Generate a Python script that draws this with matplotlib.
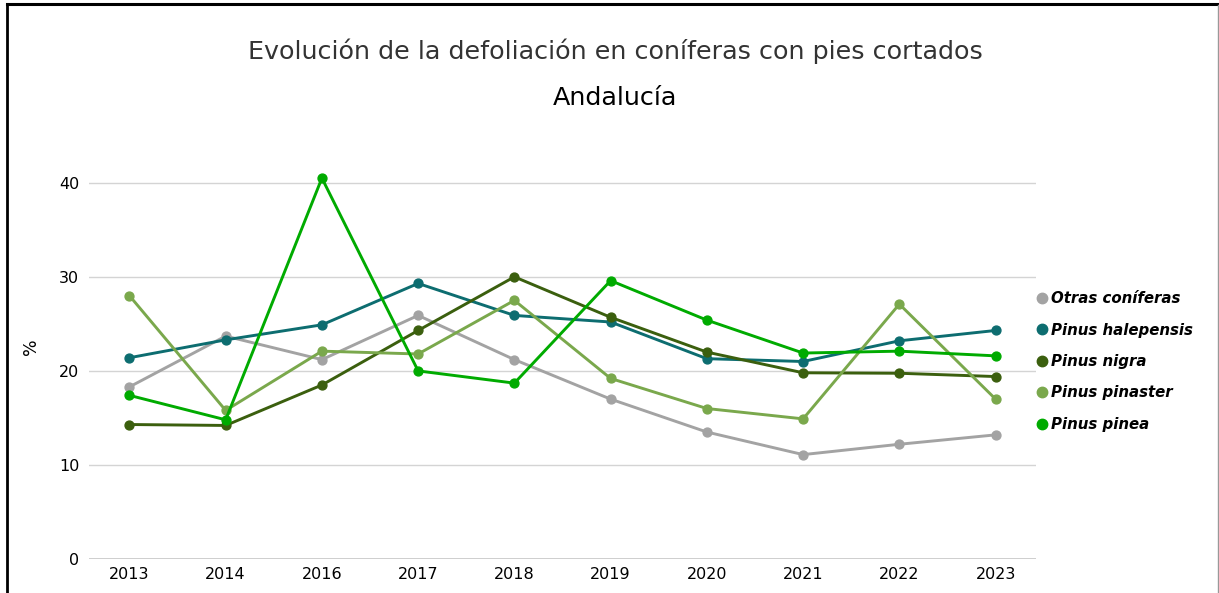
import matplotlib
matplotlib.use("Agg")
import matplotlib.pyplot as plt
from matplotlib.lines import Line2D

years = ["2013", "2014", "2016", "2017", "2018", "2019", "2020", "2021", "2022", "2023"]
otras_coniferas = [18.3, 23.7, 21.2, 25.9, 21.2, 17.0, 13.5, 11.1, 12.2, 13.2]
pinus_halepensis = [21.4, 23.3, 24.9, 29.3, 25.9, 25.2, 21.3, 21.0, 23.2, 24.3]
pinus_nigra = [14.3, 14.2, 18.5, 24.3, 30.0, 25.7, 22.0, 19.8, 19.75, 19.4]
pinus_pinaster = [28.0, 15.8, 22.1, 21.8, 27.5, 19.2, 16.0, 14.9, 27.1, 17.0]
pinus_pinea = [17.4, 14.8, 40.5, 20.0, 18.7, 29.6, 25.4, 21.9, 22.1, 21.6]

series_names = ["Otras coníferas", "Pinus halepensis", "Pinus nigra", "Pinus pinaster", "Pinus pinea"]
series_values = [otras_coniferas, pinus_halepensis, pinus_nigra, pinus_pinaster, pinus_pinea]
colors = ["#a3a3a3", "#0d6d70", "#3b5f0e", "#7aa84c", "#00ab00"]
yticks = [0, 10, 20, 30, 40]

W, H = 1219, 593
fig = plt.figure(figsize=(W / 100, H / 100), dpi=100)
fig.patch.set_facecolor("white")

# axes placement in pixels
left_px, right_px = 89, 1036
bottom_px, top_px = 559, 164
ax = fig.add_axes([left_px / W, (H - bottom_px) / H, (right_px - left_px) / W, (bottom_px - top_px) / H])

x = list(range(len(years)))
handles = []
for name, vals, c in zip(series_names, series_values, colors):
    ax.plot(x, vals, color=c, lw=2.1, marker="o", ms=6.4, zorder=3, solid_joinstyle="round")
    handles.append(Line2D([], [], color=c, marker="o", ls="none", ms=7.5, label=name))

ax.set_xlim(-0.42, len(years) - 1 + 0.42)
ax.set_ylim(0, 42)
ax.set_xticks(x)
ax.set_xticklabels(years)
ax.set_yticks(yticks)
ax.tick_params(axis="both", length=0, labelsize=11.5, colors="black")
ax.tick_params(axis="x", pad=6)
ax.tick_params(axis="y", pad=7)
ax.grid(axis="y", color="#d4d4d4", lw=1.0)
ax.set_axisbelow(True)
for s in ax.spines.values():
    s.set_visible(False)
ax.axhline(0, color="#c8c8c8", lw=1.2, zorder=1)
ax.set_ylabel("%", fontsize=12.5, color="black")
ax.yaxis.set_label_coords((40 - left_px) / (right_px - left_px), (559 - 347) / (559 - 164))

fig.text(615 / W, 1 - 51 / H, "Evolución de la defoliación en coníferas con pies cortados",
         ha="center", va="center", fontsize=18.3, color="#333333")
fig.text(615 / W, 1 - 98 / H, "Andalucía", ha="center", va="center", fontsize=18.3, color="black")

leg = fig.legend(handles=handles, loc="upper left", bbox_to_anchor=(1031 / W, 1 - 285 / H),
                 frameon=False, handlelength=0.6, handletextpad=0.35, labelspacing=1.1,
                 prop={"style": "italic", "size": 10.8, "weight": "semibold"}, borderaxespad=0)

# screenshot frame
fig.add_artist(Line2D([7 / W, 7 / W], [0, 1 - 4 / H], color="black", lw=2, transform=fig.transFigure))
fig.add_artist(Line2D([7 / W, 1], [1 - 4 / H, 1 - 4 / H], color="black", lw=2.2, transform=fig.transFigure))
fig.add_artist(Line2D([1217.5 / W, 1217.5 / W], [0, 1 - 5 / H], color="#999999", lw=1, transform=fig.transFigure))

fig.savefig("out.png", dpi=100)
